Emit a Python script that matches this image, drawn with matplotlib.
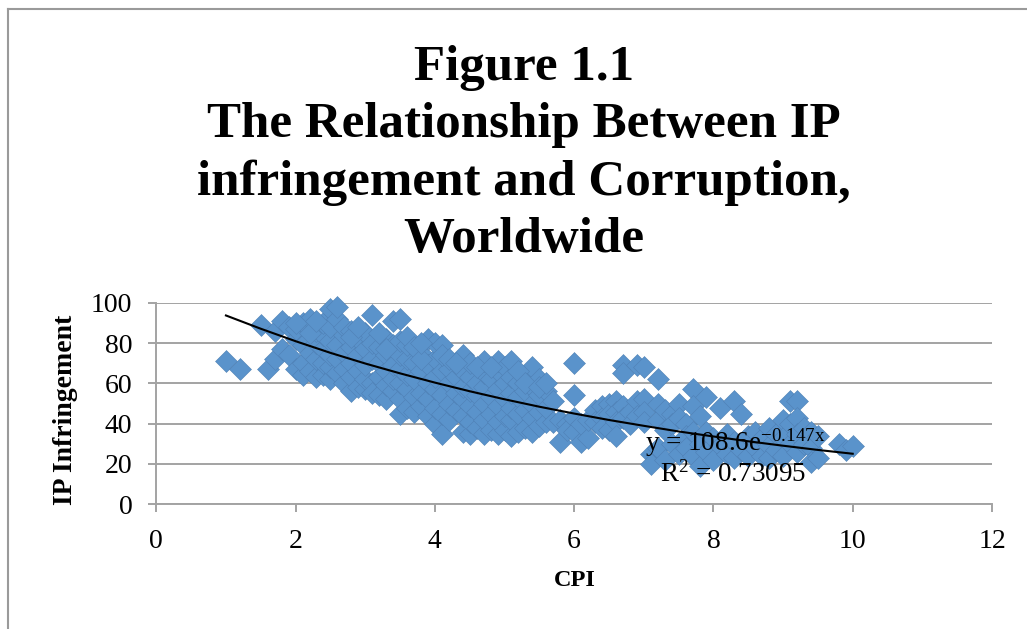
import matplotlib
matplotlib.use('Agg')
import matplotlib.pyplot as plt
from matplotlib.lines import Line2D

plt.rcParams['font.family'] = ['Liberation Serif', 'DejaVu Serif']
plt.rcParams['mathtext.fontset'] = 'custom'
plt.rcParams['mathtext.rm'] = 'Liberation Serif'
plt.rcParams['mathtext.it'] = 'Liberation Serif'

# =========================
# DATA
# =========================
cpi = [
    1.0, 1.2, 1.5, 1.6, 1.7, 1.7, 1.8, 1.8, 1.9, 1.9,
    2.0, 2.0, 2.0, 2.1, 2.1, 2.1, 2.1, 2.2, 2.2, 2.2,
    2.3, 2.3, 2.3, 2.3, 2.4, 2.4, 2.4, 2.4, 2.4, 2.5,
    2.5, 2.5, 2.5, 2.5, 2.5, 2.6, 2.6, 2.6, 2.6, 2.6,
    2.7, 2.7, 2.7, 2.7, 2.7, 2.8, 2.8, 2.8, 2.8, 2.8,
    2.9, 2.9, 2.9, 2.9, 3.0, 3.0, 3.0, 3.0, 3.0, 3.1,
    3.1, 3.1, 3.1, 3.1, 3.2, 3.2, 3.2, 3.2, 3.3, 3.3,
    3.3, 3.3, 3.3, 3.4, 3.4, 3.4, 3.4, 3.4, 3.5, 3.5,
    3.5, 3.5, 3.5, 3.5, 3.5, 3.6, 3.6, 3.6, 3.6, 3.6,
    3.7, 3.7, 3.7, 3.7, 3.8, 3.8, 3.8, 3.8, 3.9, 3.9,
    3.9, 3.9, 3.9, 4.0, 4.0, 4.0, 4.0, 4.0, 4.0, 4.1,
    4.1, 4.1, 4.1, 4.1, 4.2, 4.2, 4.2, 4.2, 4.3, 4.3,
    4.3, 4.4, 4.4, 4.4, 4.4, 4.4, 4.4, 4.5, 4.5, 4.5,
    4.5, 4.5, 4.5, 4.6, 4.6, 4.6, 4.6, 4.7, 4.7, 4.7,
    4.7, 4.7, 4.7, 4.8, 4.8, 4.8, 4.8, 4.9, 4.9, 4.9,
    4.9, 4.9, 4.9, 5.0, 5.0, 5.0, 5.0, 5.0, 5.1, 5.1,
    5.1, 5.1, 5.1, 5.1, 5.2, 5.2, 5.2, 5.2, 5.3, 5.3,
    5.3, 5.3, 5.4, 5.4, 5.4, 5.4, 5.4, 5.5, 5.5, 5.5,
    5.5, 5.6, 5.6, 5.6, 5.7, 5.7, 5.8, 5.8, 5.9, 5.9,
    6.0, 6.0, 6.0, 6.0, 6.1, 6.1, 6.2, 6.2, 6.3, 6.3,
    6.4, 6.4, 6.4, 6.5, 6.5, 6.5, 6.6, 6.6, 6.6, 6.6,
    6.7, 6.7, 6.7, 6.7, 6.8, 6.8, 6.9, 6.9, 6.9, 7.0,
    7.0, 7.0, 7.0, 7.1, 7.1, 7.2, 7.2, 7.2, 7.2, 7.3,
    7.3, 7.3, 7.4, 7.4, 7.4, 7.5, 7.5, 7.5, 7.6, 7.6,
    7.6, 7.7, 7.7, 7.7, 7.7, 7.8, 7.8, 7.8, 7.9, 7.9,
    7.9, 8.0, 8.0, 8.1, 8.1, 8.2, 8.2, 8.3, 8.3, 8.3,
    8.4, 8.4, 8.5, 8.5, 8.6, 8.6, 8.7, 8.7, 8.8, 8.8,
    8.8, 8.9, 8.9, 9.0, 9.0, 9.0, 9.1, 9.1, 9.1, 9.2,
    9.2, 9.2, 9.2, 9.3, 9.3, 9.4, 9.4, 9.4, 9.5, 9.5,
    9.8, 9.9, 10.0,
    2.0, 2.2, 2.3, 2.8, 2.9, 3.2, 3.3, 3.6, 3.7, 3.8,
    3.8, 4.1, 4.2, 4.3, 4.6, 4.8, 5.2, 5.3, 5.5, 5.6,
]
ip_infringement = [
    71, 67, 89, 67, 72, 86, 77, 91, 74, 88,
    67, 82, 87, 64, 70, 79, 90, 66, 75, 92,
    63, 72, 80, 86, 64, 70, 77, 84, 90, 62,
    68, 74, 81, 88, 97, 65, 72, 79, 92, 98,
    60, 67, 75, 84, 88, 56, 63, 70, 78, 86,
    58, 66, 74, 82, 57, 62, 69, 77, 85, 60,
    55, 72, 80, 94, 54, 63, 70, 78, 52, 59,
    66, 74, 82, 56, 62, 69, 79, 91, 45, 52,
    60, 67, 74, 81, 92, 48, 57, 64, 72, 79,
    46, 53, 62, 70, 49, 55, 66, 75, 44, 52,
    60, 69, 82, 40, 48, 57, 63, 72, 80, 35,
    45, 54, 66, 79, 42, 50, 60, 67, 47, 55,
    63, 36, 44, 52, 58, 66, 74, 35, 41, 49,
    56, 63, 70, 38, 46, 54, 60, 35, 42, 50,
    58, 65, 71, 37, 45, 53, 62, 35, 41, 49,
    57, 66, 71, 37, 44, 52, 60, 68, 34, 42,
    48, 55, 63, 71, 36, 45, 53, 60, 38, 47,
    56, 63, 36, 43, 50, 58, 68, 39, 46, 54,
    62, 41, 48, 56, 41, 51, 31, 42, 40, 37,
    70, 54, 43, 36, 31, 40, 33, 42, 47, 41,
    49, 43, 38, 50, 45, 37, 51, 46, 41, 34,
    69, 65, 49, 43, 46, 40, 69, 51, 44, 68,
    52, 46, 41, 25, 20, 62, 50, 42, 28, 47,
    37, 22, 45, 40, 30, 50, 43, 25, 40, 34,
    28, 57, 49, 36, 24, 44, 30, 19, 53, 36,
    26, 33, 22, 48, 29, 35, 25, 51, 31, 23,
    45, 27, 34, 24, 36, 28, 33, 24, 38, 29,
    23, 35, 27, 42, 33, 24, 51, 40, 30, 51,
    43, 35, 26, 38, 30, 36, 28, 21, 34, 23,
    30, 27, 29,
    90, 85, 91, 83, 88, 85, 77, 83, 78, 72,
    80, 74, 72, 70, 68, 68, 66, 60, 58, 60,
]

trend_x = [1, 1.5, 2, 2.5, 3, 3.5, 4, 4.5, 5, 5.5, 6, 6.5, 7, 7.5, 8, 8.5, 9, 9.5, 10]
trend_y = [93.8, 87.2, 81.0, 75.2, 69.9, 65.0, 60.4, 56.1, 52.1, 48.4, 45.0,
           41.8, 38.9, 36.1, 33.6, 31.2, 29.0, 26.9, 25.0]

x_ticks = [0, 2, 4, 6, 8, 10, 12]
y_ticks = [0, 20, 40, 60, 80, 100]
title_lines = "Figure 1.1\nThe Relationship Between IP\ninfringement and Corruption,\nWorldwide"

# =========================
# FIGURE
# =========================
W, H = 1027, 629
GRAY = '#A3A3A3'
fig = plt.figure(figsize=(W / 100, H / 100), dpi=100)

# chart frame, open on the right and at the bottom
fig.add_artist(Line2D([8 / W, 8 / W], [0, 1 - 9 / H], color='#9A9A9A', lw=1.5))
fig.add_artist(Line2D([8 / W, 1], [1 - 9 / H, 1 - 9 / H], color='#9A9A9A', lw=1.5))

ax = fig.add_axes([156.3 / W, 1 - 504 / H, (992 - 156.3) / W, (504 - 303) / H])
ax.set_xlim(0, 12)
ax.set_ylim(0, 100)
ax.set_xticks(x_ticks)
ax.set_yticks(y_ticks)
ax.grid(axis='y', color=GRAY, lw=1.4)
ax.set_axisbelow(True)
for side in ['top', 'right']:
    ax.spines[side].set_visible(False)
for side in ['left', 'bottom']:
    ax.spines[side].set_color(GRAY)
    ax.spines[side].set_linewidth(1.4)
ax.tick_params(colors='black', labelsize=20, length=5.8, width=1.4, color=GRAY)
ax.tick_params(axis='x', pad=12)
ax.tick_params(axis='y', pad=11.5)

ax.scatter(cpi, ip_infringement, marker='D', s=125, color='#5A93CB',
           edgecolors='#4F81B5', linewidths=0.4, clip_on=False, zorder=3)
ax.plot(trend_x, trend_y, color='black', lw=1.5, zorder=4)

ax.text(645 / W, 1 - 451 / H, 'y = 108.6e$^{\\mathrm{-0.147x}}$', transform=fig.transFigure,
        fontsize=19.5, ha='left', va='baseline', zorder=5)
ax.text(660 / W, 1 - 482 / H, 'R$^{2}$ = 0.73095', transform=fig.transFigure,
        fontsize=19.5, ha='left', va='baseline', zorder=5)

fig.text(574.5 / W, 1 - 581 / H, 'CPI', fontsize=17.5, fontweight='bold', ha='center', va='center')
fig.text(66 / W, 1 - 410 / H, 'IP Infringement', fontsize=20, fontweight='bold',
         rotation=90, ha='center', va='center')

fig.text(524 / W, 1 - 154 / H, title_lines, fontsize=36.7, fontweight='bold',
         ha='center', va='center', linespacing=1.31)

fig.savefig('out.png', dpi=100)
